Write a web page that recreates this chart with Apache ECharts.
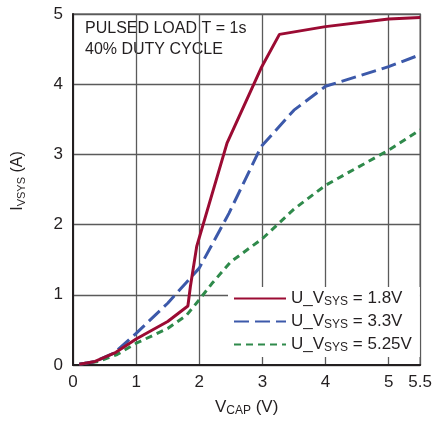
<!DOCTYPE html>
<html>
<head>
<meta charset="utf-8">
<script src="https://cdn.jsdelivr.net/npm/echarts@6/dist/echarts.min.js"></script>
<style>
  html, body { margin: 0; padding: 0; background: #fff; }
  #chart { width: 435px; height: 423px; }
</style>
</head>
<body>
<div id="chart"></div>
<script>
// Supply current vs. capacitor voltage for three output settings
const xTicks = [0, 1, 2, 3, 4, 5, 5.5];
const yTicks = [0, 1, 2, 3, 4, 5];

const vcap18 = [0.1, 0.35, 0.68, 1.0, 1.5, 1.82, 1.86, 1.96, 2.44, 2.98, 3.27, 4.0, 5.0, 5.5];
const isys18 = [0.01, 0.05, 0.18, 0.37, 0.62, 0.84, 1.12, 1.69, 3.16, 4.23, 4.71, 4.82, 4.93, 4.95];

const vcap33 = [0.1, 0.35, 0.65, 1.0, 1.5, 2.0, 2.47, 2.98, 3.5, 4.0, 5.0, 5.5];
const isys33 = [0.01, 0.05, 0.17, 0.45, 0.88, 1.38, 2.16, 3.11, 3.63, 3.97, 4.25, 4.42];

const vcap525 = [0.1, 0.4, 0.7, 1.0, 1.5, 1.8, 2.0, 2.2, 2.5, 3.0, 3.5, 4.0, 4.5, 5.0, 5.5];
const isys525 = [0.01, 0.05, 0.15, 0.31, 0.52, 0.71, 0.93, 1.16, 1.47, 1.80, 2.22, 2.56, 2.81, 3.06, 3.35];

const names = ['U_VSYS = 1.8V', 'U_VSYS = 3.3V', 'U_VSYS = 5.25V'];
const legendText = ['U_V{s|SYS} = 1.8V', 'U_V{s|SYS} = 3.3V', 'U_V{s|SYS} = 5.25V'];

const FONT = '"Liberation Sans Narrow", "Liberation Sans", Arial, sans-serif';
const TXT = '#231f20';

function pairs(xs, ys) { return xs.map((x, i) => [x, ys[i]]); }

const chart = echarts.init(document.getElementById('chart'), null, { renderer: 'canvas' });

chart.setOption({
  animation: false,
  backgroundColor: '#fff',
  grid: {
    left: 73, right: 9, top: 14, bottom: 58,
    show: true, borderColor: '#7a7a7a', borderWidth: 1.5, backgroundColor: 'transparent'
  },
  xAxis: {
    type: 'value', min: 0, max: 5.5, interval: 1,
    name: 'V{s|CAP} (V)', nameLocation: 'middle', nameGap: 32,
    nameTextStyle: {
      fontFamily: FONT, fontSize: 17, color: TXT,
      rich: { s: { fontFamily: FONT, fontSize: 12, color: TXT, padding: [8, 0, 0, 0] } }
    },
    axisLine: { show: true, lineStyle: { color: '#231f20', width: 2 } },
    axisTick: { show: false },
    axisLabel: {
      customValues: xTicks, fontFamily: FONT, fontSize: 17, color: TXT, margin: 9,
      formatter: v => String(v)
    },
    splitLine: { show: true, lineStyle: { color: '#5a5a5a', width: 1.3 } }
  },
  yAxis: {
    type: 'value', min: 0, max: 5, interval: 1,
    axisLine: { show: true, lineStyle: { color: '#231f20', width: 2 } },
    axisTick: { show: false },
    axisLabel: {
      fontFamily: FONT, fontSize: 17, color: TXT, margin: 10,
      formatter: v => (yTicks.includes(v) ? String(v) : '')
    },
    splitLine: { show: true, lineStyle: { color: '#5a5a5a', width: 1.3 } }
  },
  legend: {
    orient: 'vertical', left: 228, top: 287,
    backgroundColor: '#fff', padding: [2, 8, 3, 5],
    itemWidth: 52, itemHeight: 12, itemGap: 4,
    itemStyle: { color: 'transparent', borderWidth: 0, opacity: 0 },
    data: names,
    formatter: name => legendText[names.indexOf(name)],
    textStyle: {
      fontFamily: FONT, fontSize: 17, color: TXT, lineHeight: 17,
      rich: { s: { fontFamily: FONT, fontSize: 12, color: TXT, lineHeight: 17, padding: [7, 0, 0, 0] } }
    }
  },
  graphic: [
    { type: 'text', left: 85, top: 21, style: { text: 'PULSED LOAD T = 1s', font: '16px ' + FONT, fill: TXT } },
    { type: 'text', left: 85, top: 42, style: { text: '40% DUTY CYCLE', font: '16px ' + FONT, fill: TXT } },
    {
      type: 'text', x: 18, y: 181, rotation: Math.PI / 2,
      style: {
        text: 'I{s|VSYS} (A)', align: 'center', verticalAlign: 'middle',
        font: '16px ' + FONT, fill: TXT,
        rich: { s: { fontFamily: FONT, fontSize: 11, fill: TXT, padding: [7, 0, 0, 0] } }
      }
    }
  ],
  series: [
    {
      name: names[0], type: 'line', data: pairs(vcap18, isys18), showSymbol: false, symbol: 'none',
      color: '#9b0b33', lineStyle: { color: '#9b0b33', width: 3 }, z: 4
    },
    {
      name: names[1], type: 'line', data: pairs(vcap33, isys33), showSymbol: false, symbol: 'none',
      color: '#3c59aa', lineStyle: { color: '#3c59aa', width: 3, type: [15, 6] }, z: 3
    },
    {
      name: names[2], type: 'line', data: pairs(vcap525, isys525), showSymbol: false, symbol: 'none',
      color: '#2f8a4b', lineStyle: { color: '#2f8a4b', width: 3, type: [7, 5] }, z: 2
    }
  ]
});
</script>
</body>
</html>
